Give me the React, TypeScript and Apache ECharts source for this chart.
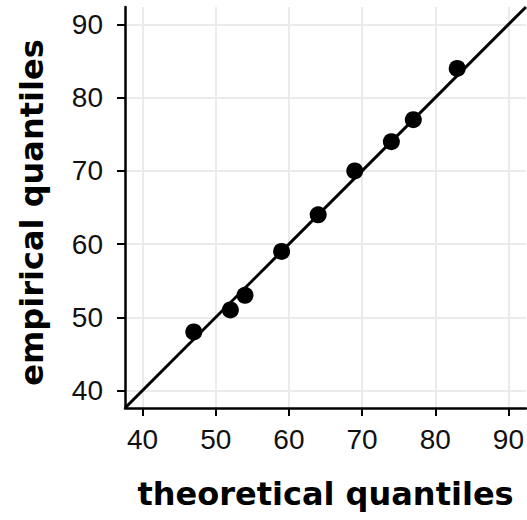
import React, { useEffect, useRef } from "react";
import * as echarts from "echarts";

const theoretical = [47, 52, 54, 59, 64, 69, 74, 77, 83];
const empirical = [48, 51, 53, 59, 64, 70, 74, 77, 84];
const tickValues = [40, 50, 60, 70, 80, 90];
const axisMin = 37.6;
const axisMax = 92.4;
const xTitle = "theoretical quantiles";
const yTitle = "empirical quantiles";

export default function App() {
  const ref = useRef<HTMLDivElement>(null);
  useEffect(() => {
    if (!ref.current) return;
    const chart = echarts.init(ref.current, null, { renderer: "svg" });
    const labelStyle = { color: "#111", fontSize: 28, fontFamily: "Liberation Sans, Arial, sans-serif" };
    const gridLines = [
      ...tickValues.map((v) => ({ xAxis: v })),
      ...tickValues.map((v) => ({ yAxis: v })),
    ];
    chart.setOption({
      animation: false,
      grid: { left: 125, top: 7, right: 0, bottom: 112, containLabel: false },
      xAxis: {
        type: "value",
        min: axisMin,
        max: axisMax,
        axisLine: { show: true, onZero: false, lineStyle: { color: "#000", width: 2.5 } },
        axisTick: { show: true, length: 8, lineStyle: { color: "#000", width: 2 }, customValues: tickValues },
        axisLabel: { ...labelStyle, margin: 17, customValues: tickValues },
        splitLine: { show: false },
        z: 4,
      },
      yAxis: {
        type: "value",
        min: axisMin,
        max: axisMax,
        axisLine: { show: true, onZero: false, lineStyle: { color: "#000", width: 2.5 } },
        axisTick: { show: true, length: 8, lineStyle: { color: "#000", width: 2 }, customValues: tickValues },
        axisLabel: { ...labelStyle, margin: 22, customValues: tickValues },
        splitLine: { show: false },
        z: 4,
      },
      series: [
        {
          type: "line",
          data: [],
          z: 0,
          silent: true,
          markLine: {
            silent: true,
            z: 0,
            symbol: ["none", "none"],
            label: { show: false },
            lineStyle: { color: "#ebebeb", width: 2, type: "solid" },
            emphasis: { disabled: true },
            data: gridLines,
          },
        },
        {
          type: "line",
          data: [
            [axisMin, axisMin],
            [axisMax, axisMax],
          ],
          showSymbol: false,
          symbol: "none",
          lineStyle: { color: "#000", width: 3 },
          z: 6,
          silent: true,
        },
        {
          type: "scatter",
          data: theoretical.map((t, i) => [t, empirical[i]]),
          symbolSize: 17,
          itemStyle: { color: "#000", opacity: 1 },
          z: 7,
        },
      ],
      graphic: [
        {
          type: "text",
          x: 325.5,
          y: 494,
          style: {
            text: xTitle,
            fill: "#000",
            font: "bold 32px 'DejaVu Sans', sans-serif",
            align: "center",
            verticalAlign: "middle",
          },
        },
        {
          type: "text",
          x: 32,
          y: 212.5,
          rotation: Math.PI / 2,
          style: {
            text: yTitle,
            fill: "#000",
            font: "bold 32px 'DejaVu Sans', sans-serif",
            align: "center",
            verticalAlign: "middle",
          },
        },
      ],
    });
    return () => chart.dispose();
  }, []);
  return (
    <div
      ref={ref}
      style={{ position: "fixed", left: 0, top: 0, width: 527, height: 520, background: "#fff" }}
    />
  );
}
